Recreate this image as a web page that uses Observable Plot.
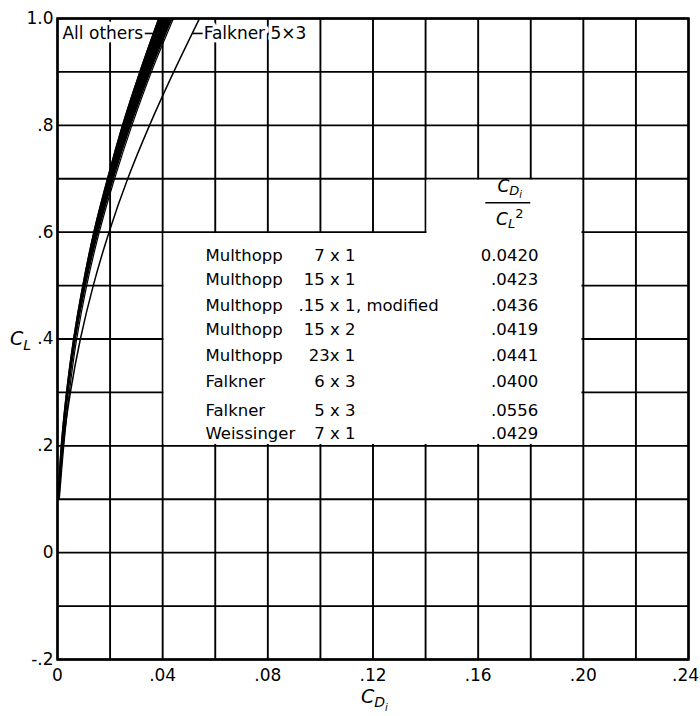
<!DOCTYPE html>
<html>
<head>
<meta charset="utf-8">
<script src="https://cdn.jsdelivr.net/npm/d3@7"></script>
<script src="https://cdn.jsdelivr.net/npm/@observablehq/plot@0.6"></script>
<style>
  html, body { margin: 0; padding: 0; background: #fff; }
  svg { display: block; }
</style>
</head>
<body>
<div id="chart"></div>
<script>
// ---------------- data ----------------
// lift coefficient levels at which curves were read
const liftLevels = [0.1, 0.2, 0.3, 0.4, 0.5, 0.6, 0.7, 0.8, 0.9, 1.0];
// "All others" band: left and right edge of induced drag C_Di
const othersLeft  = [0.0002, 0.0014, 0.0034, 0.0061, 0.0096, 0.0138, 0.0190, 0.0247, 0.0313, 0.0385];
const othersRight = [0.0007, 0.0024, 0.0045, 0.0073, 0.0111, 0.0159, 0.0217, 0.0283, 0.0357, 0.0441];
// Falkner 5x3 curve
const falkner5x3  = [0.0005, 0.0021, 0.0049, 0.0087, 0.0136, 0.0196, 0.0267, 0.0350, 0.0442, 0.0540];

// table
const methods = ["Multhopp", "Multhopp", "Multhopp", "Multhopp", "Multhopp", "Falkner", "Falkner", "Weissinger"];
const configs = ["7 x 1", "15 x 1", ".15 x 1", "15 x 2", "23x 1", "6 x 3", "5 x 3", "7 x 1"];
const notes   = ["", "", ", modified", "", "", "", "", ""];
const ratios  = ["0.0420", ".0423", ".0436", ".0419", ".0441", ".0400", ".0556", ".0429"];

// curve labels
const curveLabels = ["All others", "Falkner 5×3"];

// ticks
const xTicks = [0, 0.04, 0.08, 0.12, 0.16, 0.20, 0.24];
const xTickLabels = ["0", ".04", ".08", ".12", ".16", ".20", ".24"];
const yTicks = [-0.2, 0, 0.2, 0.4, 0.6, 0.8, 1.0];
const yTickLabels = ["-.2", "0", ".2", ".4", ".6", ".8", "1.0"];
const xGrid = [0, 0.02, 0.04, 0.06, 0.08, 0.10, 0.12, 0.14, 0.16, 0.18, 0.20, 0.22, 0.24];
const yGrid = [-0.2, -0.1, 0, 0.1, 0.2, 0.3, 0.4, 0.5, 0.6, 0.7, 0.8, 0.9, 1.0];

// ---------------- layout (data coordinates) ----------------
const tableBox  = {x1: 0.04, x2: 0.20, y1: 0.2, y2: 0.6};
const headerBox = {x1: 0.14, x2: 0.20, y1: 0.59, y2: 0.7};
const rowY = [0.556, 0.511, 0.463, 0.418, 0.369, 0.320, 0.266, 0.223];
const colName = 0.0563, colConfig = 0.1133, colNote = 0.1135, colRatio = 0.1829;
const labelY = 0.972;
const labelX = [0.0019, 0.0556];
const leaders = [{x1: 0.0332, x2: 0.0364}, {x1: 0.0513, x2: 0.0552}];

// ---------------- build ----------------
const band = liftLevels.map((cl, i) => ({cl, lo: othersLeft[i], hi: othersRight[i]}));
const falk = liftLevels.map((cl, i) => ({cl, cd: falkner5x3[i]}));
const rows = methods.map((m, i) => ({m, c: configs[i], n: notes[i], r: ratios[i], y: rowY[i]}));
const FONT = "'DejaVu Sans', sans-serif";
const fmtX = d => xTickLabels[xTicks.indexOf(d)];
const fmtY = d => yTickLabels[yTicks.indexOf(d)];

const chart = Plot.plot({
  width: 700,
  height: 716,
  marginTop: 18,
  marginRight: 12,
  marginBottom: 57,
  marginLeft: 57,
  style: {fontFamily: FONT, fontSize: "17px", color: "#000", background: "#fff"},
  x: {domain: [0, 0.24]},
  y: {domain: [-0.2, 1.0]},
  marks: [
    Plot.ruleX(xGrid, {stroke: "#000", strokeWidth: 1.9}),
    Plot.ruleY(yGrid, {stroke: "#000", strokeWidth: 1.9}),
    Plot.rect([tableBox, headerBox], {x1: "x1", x2: "x2", y1: "y1", y2: "y2", fill: "#fff", inset: 1.4}),
    Plot.areaX(band, {y: "cl", x1: "lo", x2: "hi", fill: "#000", curve: "monotone-y"}),
    Plot.line(band, {x: "lo", y: "cl", stroke: "#000", strokeWidth: 1.2, curve: "monotone-y"}),
    Plot.line(band, {x: "hi", y: "cl", stroke: "#000", strokeWidth: 1.2, curve: "monotone-y"}),
    Plot.line(falk, {x: "cd", y: "cl", stroke: "#000", strokeWidth: 1.5, curve: "monotone-y"}),
    Plot.text(curveLabels, {x: (d, i) => labelX[i], y: () => labelY, text: d => d, textAnchor: "start",
      fontSize: 17, fill: "#000", stroke: "#fff", strokeWidth: 7}),
    Plot.link(leaders, {x1: "x1", x2: "x2", y1: () => labelY, y2: () => labelY, stroke: "#000", strokeWidth: 1.6}),
    Plot.text(rows, {x: () => colName, y: "y", text: "m", textAnchor: "start", fontSize: 16.5}),
    Plot.text(rows, {x: () => colConfig, y: "y", text: "c", textAnchor: "end", fontSize: 16.5}),
    Plot.text(rows, {x: () => colNote, y: "y", text: "n", textAnchor: "start", fontSize: 16.5}),
    Plot.text(rows, {x: () => colRatio, y: "y", text: "r", textAnchor: "end", fontSize: 16.5}),
    Plot.frame({stroke: "#000", strokeWidth: 2.5}),
    Plot.axisX(xTicks.slice(0, -1), {tickSize: 0, tickPadding: 9, fontSize: 17, label: null, tickFormat: fmtX}),
    Plot.axisX(xTicks.slice(-1), {tickSize: 0, tickPadding: 9, fontSize: 17, label: null, tickFormat: fmtX, dx: -3, textAnchor: "middle"}),
    Plot.axisY(yTicks, {tickSize: 0, tickPadding: 4, fontSize: 17, label: null, tickFormat: fmtY})
  ]
});

document.getElementById("chart").appendChild(chart);

// ---------- subscripted axis and column labels ----------
const sx = chart.scale("x"), sy = chart.scale("y");
const svg = d3.select(chart);
const g = svg.append("g").attr("font-family", FONT).attr("fill", "#000").attr("text-anchor", "start");

// y-axis label C_L
const yl = g.append("text").attr("x", 10).attr("y", sy.apply(0.4) + 6).attr("font-size", 19);
yl.append("tspan").attr("font-style", "italic").text("C");
yl.append("tspan").attr("font-style", "italic").attr("font-size", 14).attr("dy", 5).text("L");

// x-axis label C_Di
const xl = g.append("text").attr("x", 361).attr("y", 703).attr("font-size", 19);
xl.append("tspan").attr("font-style", "italic").text("C");
xl.append("tspan").attr("font-style", "italic").attr("font-size", 14).attr("dy", 4).text("D");
xl.append("tspan").attr("font-style", "italic").attr("font-size", 10).attr("dy", 4).text("i");

// column header C_Di / C_L^2
const hx = sx.apply(0.1722);
const h1 = g.append("text").attr("x", hx).attr("y", sy.apply(0.683) + 5).attr("text-anchor", "middle").attr("font-size", 17);
h1.append("tspan").attr("font-style", "italic").text("C");
h1.append("tspan").attr("font-style", "italic").attr("font-size", 13).attr("dy", 3).text("D");
h1.append("tspan").attr("font-style", "italic").attr("font-size", 10).attr("dy", 3).text("i");
g.append("line").attr("x1", sx.apply(0.1629)).attr("x2", sx.apply(0.1800))
  .attr("y1", sy.apply(0.654)).attr("y2", sy.apply(0.654)).attr("stroke", "#000").attr("stroke-width", 1.5);
const h2 = g.append("text").attr("x", hx).attr("y", sy.apply(0.626) + 7).attr("text-anchor", "middle").attr("font-size", 17);
h2.append("tspan").attr("font-style", "italic").text("C");
h2.append("tspan").attr("font-style", "italic").attr("font-size", 13).attr("dy", 3).text("L");
h2.append("tspan").attr("font-size", 13).attr("dy", -10).text("2");
</script>
</body>
</html>
